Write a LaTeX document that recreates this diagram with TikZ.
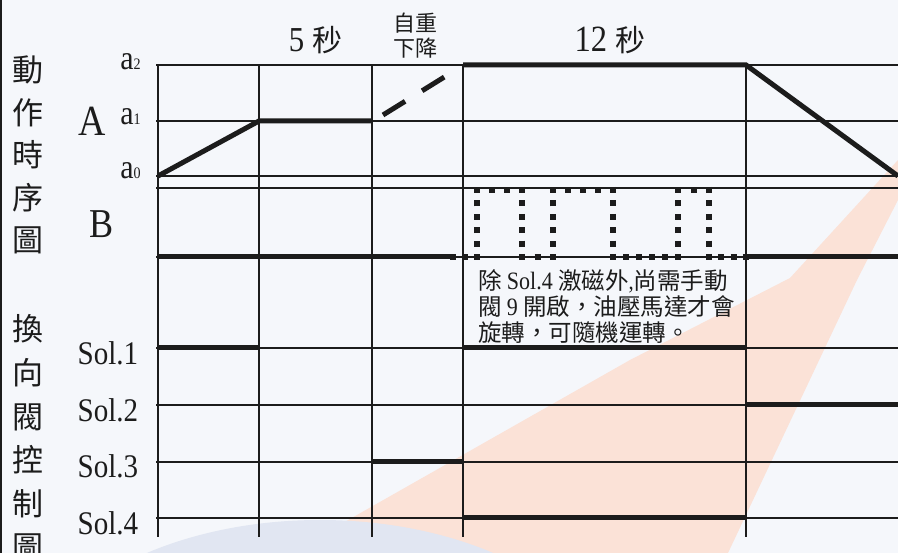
\documentclass[tikz,border=0pt]{standalone}
\usepackage{fontspec}
\setmainfont{Liberation Serif}
\newfontfamily\lat[FakeStretch=0.88]{Liberation Serif}
\newfontfamily\cjk{Noto Sans CJK TC}
\definecolor{ink}{HTML}{1C1C1C}
\definecolor{bgcol}{HTML}{F5F7FB}
\definecolor{peach}{HTML}{FBE2D7}
\definecolor{arcblue}{HTML}{E1E6F2}
\begin{document}
\begin{tikzpicture}[x=1pt,y=-1pt,
  gridline/.style={line width=1.7pt, draw=ink},
  heavy/.style={line width=5pt, draw=ink},
  dotseg/.style={line width=6pt, draw=ink, shorten <=-3pt, shorten >=-3pt, dash pattern=on 6pt off #1},
  dashseg/.style={line width=5pt, draw=ink, dash pattern=on 26pt off 20pt},
  lbl/.style={inner sep=0pt, text=ink},
]
% background and watermark tints
\fill[bgcol] (0,0) rectangle (898,553);
\useasboundingbox (0,0) rectangle (898,553);
\fill[peach] (290,553) -- (630,360) -- (790,278) -- (898,160) -- (898,200) -- (857,280) -- (728,553) -- cycle;
\fill[arcblue] (320,700) ellipse [x radius=300, y radius=180];

% left border
\draw[gridline] (1,0) -- (1,553);

% grid
\foreach \yy in {65,121,176,188,257,348,405,462,518}
  \draw[gridline] (156,\yy) -- (898,\yy);
\foreach \xx in {158,259,372,463,746}
  \draw[gridline] (\xx,65) -- (\xx,537);

% A motion
\draw[heavy] (158,176) -- (259,121) -- (372,121);
\draw[dashseg] (383,115) -- (446,76);
\draw[heavy] (463,65) -- (746,65) -- (898,176);

% B motion
\draw[heavy] (158,257) -- (453,257);
\draw[heavy] (746,257) -- (898,257);
\draw[dotseg=6pt] (453,257) -- (477,257);
\draw[dotseg=7.4pt] (477,257) -- (477,190);
\draw[dotseg=9pt] (477,190) -- (522,190);
\draw[dotseg=7.4pt] (522,190) -- (522,257);
\draw[dotseg=9.5pt] (522,257) -- (553,257);
\draw[dotseg=7.4pt] (553,257) -- (553,190);
\draw[dotseg=9pt] (553,190) -- (613,190);
\draw[dotseg=7.4pt] (613,190) -- (613,257);
\draw[dotseg=7pt] (613,257) -- (678,257);
\draw[dotseg=7.4pt] (678,257) -- (678,190);
\draw[dotseg=9.5pt] (678,190) -- (709,190);
\draw[dotseg=7.4pt] (709,190) -- (709,257);
\draw[dotseg=6.33pt] (709,257) -- (746,257);

% solenoids
\draw[heavy] (158,348) -- (259,348);
\draw[heavy] (463,348) -- (746,348);
\draw[heavy] (746,405) -- (898,405);
\draw[heavy] (372,462) -- (463,462);
\draw[heavy] (463,518) -- (746,518);

% labels
\node[lbl, align=center, font=\cjk\fontsize{31}{42.5}\selectfont] (t1) at (28,155) {動\\作\\時\\序\\圖};
\node[lbl, align=center, font=\cjk\fontsize{31}{43.6}\selectfont] (t2) at (28,438) {換\\向\\閥\\控\\制\\圖};
\node[lbl, font=\lat\fontsize{43}{43}\selectfont] (lA) at (92,121) {A};
\node[lbl, font=\lat\fontsize{41}{41}\selectfont] (lB) at (102,224) {B};
\node[lbl, font=\lat\fontsize{34}{34}\selectfont] (a2) at (130.5,62) {a{\fontsize{16}{16}\selectfont 2}};
\node[lbl, font=\lat\fontsize{34}{34}\selectfont] (a1) at (130.5,116.5) {a{\fontsize{16}{16}\selectfont 1}};
\node[lbl, font=\lat\fontsize{34}{34}\selectfont] (a0) at (130.5,171) {a{\fontsize{16}{16}\selectfont 0}};
\node[lbl, font=\lat\fontsize{33}{33}\selectfont] (s1) at (108,353.5) {Sol.1};
\node[lbl, font=\lat\fontsize{33}{33}\selectfont] (s2) at (108,410) {Sol.2};
\node[lbl, font=\lat\fontsize{33}{33}\selectfont] (s3) at (108,466) {Sol.3};
\node[lbl, font=\lat\fontsize{33}{33}\selectfont] (s4) at (108,523) {Sol.4};
\node[lbl, font=\lat\fontsize{35}{35}\selectfont] (d5) at (315.5,40) {5 {\cjk\fontsize{30}{30}\selectfont 秒}};
\node[lbl, font=\lat\fontsize{37}{37}\selectfont] (d12) at (610,40) {12 {\cjk\fontsize{30}{30}\selectfont 秒}};
\node[lbl, align=center, font=\cjk\fontsize{22}{25}\selectfont] (fall) at (415,36) {自重\\下降};
\node[lbl, anchor=west, align=left, font=\cjk\fontsize{23.5}{26}\selectfont] (note) at (478,307)
  {除 {\lat\fontsize{25}{26}\selectfont Sol.4} 激磁外{\lat,}尚需手動\\
   閥 {\lat\fontsize{25}{26}\selectfont 9} 開啟，油壓馬達才會\\
   旋轉，可隨機運轉。};
\end{tikzpicture}
\end{document}
